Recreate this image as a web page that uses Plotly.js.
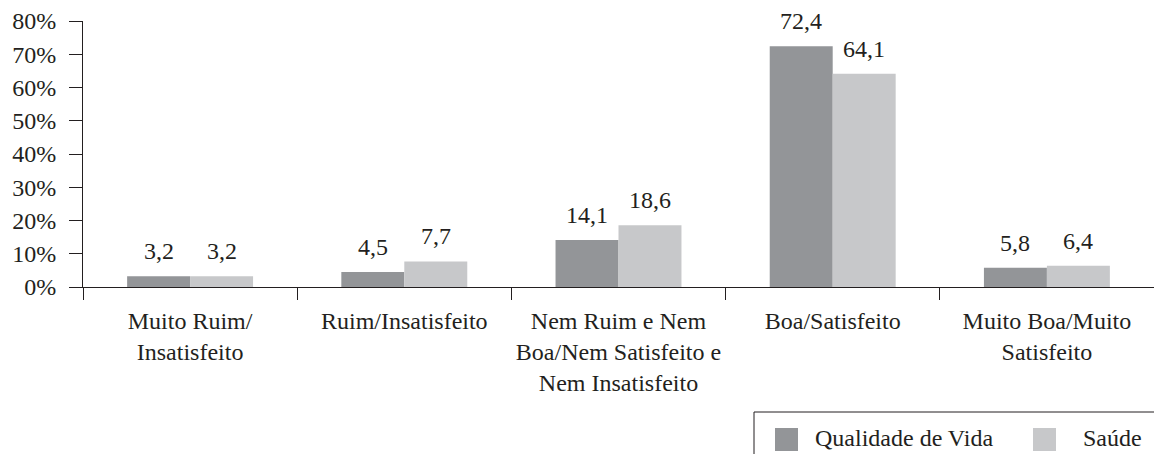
<!DOCTYPE html>
<html>
<head>
<meta charset="utf-8">
<script src="https://cdn.plot.ly/plotly-3.0.1.min.js"></script>
<style>html,body{margin:0;padding:0;background:#fff}#chart{width:1154px;height:454px}</style>
</head>
<body>
<div id="chart"></div>
<script>
const categories = [
  "Muito Ruim/<br>Insatisfeito",
  "Ruim/Insatisfeito",
  "Nem Ruim e Nem<br>Boa/Nem Satisfeito e<br>Nem Insatisfeito",
  "Boa/Satisfeito",
  "Muito Boa/Muito<br>Satisfeito"
];
const seriesNames = ["Qualidade de Vida", "Saúde"];
const qualidadeDeVida = [3.2, 4.5, 14.1, 72.4, 5.8];
const saude = [3.2, 7.7, 18.6, 64.1, 6.4];
const yTickVals = [0, 10, 20, 30, 40, 50, 60, 70, 80];
const yTickText = ["0%", "10%", "20%", "30%", "40%", "50%", "60%", "70%", "80%"];

const colors = ["#939598", "#c7c8ca"];
const textColor = "#231f20";
const font = {family: "Liberation Serif, Times New Roman, serif", size: 24, color: textColor};

const W = 1154, H = 454, L = 83, R = 0, T = 21, B = 167;
const pw = W - L - R, ph = H - T - B;
const px = x => (x - L) / pw;
const py = y => (H - B - y) / ph;

const series = [qualidadeDeVida, saude];
const traces = series.map((vals, i) => ({
  type: "bar",
  name: seriesNames[i],
  x: categories,
  y: vals,
  marker: {color: colors[i]},
  showlegend: false,
  hoverinfo: "skip"
}));

const fmt = v => v.toFixed(1).replace(".", ",");
const annotations = [];
const shifts = [-31.5, 31.5];
series.forEach((vals, i) => {
  vals.forEach((v, j) => {
    annotations.push({
      x: categories[j], y: v, xref: "x", yref: "y",
      text: fmt(v), showarrow: false,
      xanchor: "center", yanchor: "bottom",
      xshift: shifts[i], yshift: 10,
      font: font
    });
  });
});

// custom legend
const shapes = [
  {type: "rect", xref: "paper", yref: "paper", x0: px(754), x1: px(1170), y0: py(470), y1: py(412),
   line: {color: textColor, width: 1}, fillcolor: "rgba(0,0,0,0)"},
  {type: "rect", xref: "paper", yref: "paper", x0: px(775), x1: px(798), y0: py(451), y1: py(428),
   line: {width: 0}, fillcolor: colors[0]},
  {type: "rect", xref: "paper", yref: "paper", x0: px(1033), x1: px(1056), y0: py(451), y1: py(428),
   line: {width: 0}, fillcolor: colors[1]}
];
annotations.push({x: px(813), y: py(438), xref: "paper", yref: "paper", text: seriesNames[0],
  showarrow: false, xanchor: "left", yanchor: "middle", font: font});
annotations.push({x: px(1081), y: py(438), xref: "paper", yref: "paper", text: seriesNames[1],
  showarrow: false, xanchor: "left", yanchor: "middle", font: font});

const layout = {
  width: W, height: H,
  margin: {l: L, r: R, t: T, b: B},
  paper_bgcolor: "#fff", plot_bgcolor: "#fff",
  font: font,
  barmode: "group",
  bargap: 0.412,
  bargroupgap: 0,
  showlegend: false,
  xaxis: {
    type: "category",
    range: [-0.5, 4.5],
    showline: true, linecolor: textColor, linewidth: 1,
    ticks: "outside", tickson: "boundaries", ticklen: 12, tickcolor: textColor, tickwidth: 1,
    showgrid: false, zeroline: false,
    tickfont: font, tickangle: 0, automargin: false,
    ticklabelstandoff: 12
  },
  yaxis: {
    range: [0, 80],
    tickvals: yTickVals, ticktext: yTickText,
    showline: true, linecolor: textColor, linewidth: 1,
    ticks: "outside", ticklen: 13, tickcolor: textColor, tickwidth: 1,
    showgrid: false, zeroline: false,
    tickfont: font, automargin: false,
    ticklabelstandoff: 8
  },
  shapes: shapes,
  annotations: annotations
};

Plotly.newPlot("chart", traces, layout, {staticPlot: true, displayModeBar: false});
</script>
</body>
</html>
